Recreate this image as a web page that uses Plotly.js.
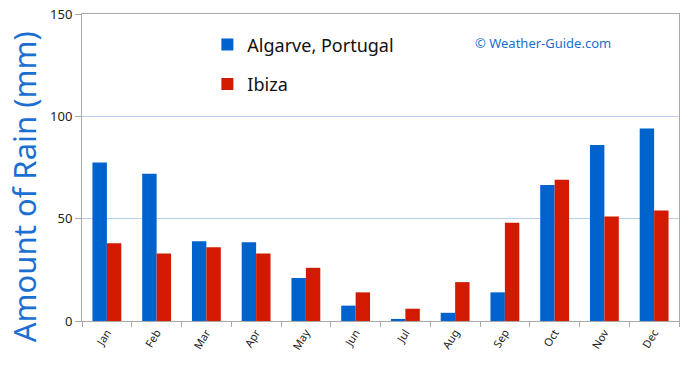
<!DOCTYPE html>
<html>
<head>
<meta charset="utf-8">
<script src="https://cdn.plot.ly/plotly-3.0.1.min.js"></script>
<style>html,body{margin:0;padding:0;background:#fff;}#chart{width:690px;height:372px;}</style>
</head>
<body>
<div id="chart"></div>
<script>
const months = ['Jan','Feb','Mar','Apr','May','Jun','Jul','Aug','Sep','Oct','Nov','Dec'];
const algarve = [77.5, 72, 39, 38.5, 21, 7.5, 1, 4, 14, 66.5, 86, 94];
const ibiza = [38, 33, 36, 33, 26, 14, 6, 19, 48, 69, 51, 54];
const seriesNames = ['Algarve, Portugal', 'Ibiza'];
const yTicks = [0, 50, 100, 150];
const yTitle = 'Amount of Rain (mm)';

const traces = [
  {type:'bar', x:months, y:algarve, name:seriesNames[0], legendgroup:'a',
   marker:{color:'#0062cc', line:{width:0}}},
  {type:'bar', x:months, y:ibiza, name:seriesNames[1], legendgroup:'b',
   marker:{color:'#d11a00', line:{width:0}}}
];

const layout = {
  width:690, height:372,
  margin:{l:82, r:11, t:14, b:51},
  paper_bgcolor:'#fff', plot_bgcolor:'#fff',
  barmode:'group', bargap:0.42, bargroupgap:0,
  font:{family:'Noto Sans, sans-serif', color:'#222'},
  xaxis:{
    showgrid:false, showline:true, linecolor:'#aaa', linewidth:1, mirror:true,
    ticks:'outside', ticklen:5, tickcolor:'#aaa', tickson:'boundaries',
    tickangle:-58, tickfont:{size:11, color:'#222'}
  },
  yaxis:{
    range:[0,150], tickvals:yTicks, showgrid:true, gridcolor:'#b9cfee', gridwidth:1,
    showline:true, linecolor:'#aaa', linewidth:1, mirror:true, zeroline:false,
    ticks:'outside', ticklen:6, tickcolor:'#aaa', tickfont:{size:13, color:'#222'}
  },
  showlegend:true,
  legend:{x:0.21, y:0.96, xanchor:'left', yanchor:'top', bgcolor:'rgba(0,0,0,0)',
    font:{size:18, color:'#111'}, tracegroupgap:13, itemwidth:30},
  annotations:[
    {xref:'paper', yref:'paper', x:0.655, y:0.905, xanchor:'left', yanchor:'middle',
     text:'© Weather-Guide.com', showarrow:false, font:{size:13, color:'#1a6fd0'}},
    {xref:'paper', yref:'paper', x:-0.097, y:0.436, xanchor:'center', yanchor:'middle',
     text:yTitle, textangle:-90, showarrow:false, font:{size:31, color:'#1a6fd0'}}
  ]
};

Plotly.newPlot('chart', traces, layout, {displayModeBar:false, staticPlot:true});
</script>
</body>
</html>
